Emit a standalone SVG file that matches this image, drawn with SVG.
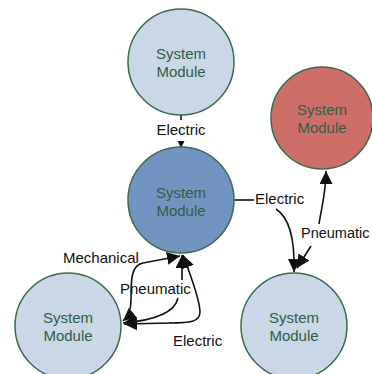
<svg xmlns="http://www.w3.org/2000/svg" width="372" height="374" viewBox="0 0 372 374">
<style>
.node{stroke:#3b6a52;stroke-width:1.5}
.light{fill:#c9d7e6}
.dark{fill:#7195c0}
.red{fill:#cd6f68}
.nt{font-family:"Liberation Sans",Arial,sans-serif;font-size:15px;fill:#2f5d46;text-anchor:middle}
.lbl{font-family:"Liberation Sans",Arial,sans-serif;font-size:15px;fill:#111}
.c{fill:none;stroke:#111;stroke-width:1.6}
</style>
<defs>
<marker id="big" markerUnits="userSpaceOnUse" markerWidth="14" markerHeight="14" refX="13" refY="6.5" orient="auto-start-reverse" viewBox="0 0 14 14">
<path d="M0,0 L13,6.5 L0,13 z" fill="#111"/>
</marker>
<marker id="small" markerUnits="userSpaceOnUse" markerWidth="8" markerHeight="8" refX="7" refY="3.5" orient="auto" viewBox="0 0 8 8">
<path d="M0,0 L7,3.5 L0,7 z" fill="#111"/>
</marker>
</defs>
<g id="connectors">
<path class="c" d="M181 114 V120"/>
<path class="c" d="M181 141 V148" marker-end="url(#small)"/>
<text class="lbl" x="181" y="135" text-anchor="middle">Electric</text>
<path class="c" d="M234 200 H254"/>
<path class="c" d="M276 209 C290 218 295 240 294 272" marker-end="url(#big)"/>
<text class="lbl" x="255" y="204">Electric</text>
<path class="c" d="M319 224 C322 205 326 192 326 171" marker-end="url(#big)"/>
<path class="c" d="M311 246 C306 254 302 260 297 268" marker-end="url(#big)"/>
<text class="lbl" x="301" y="238" style="font-size:14.5px">Pneumatic</text>
<path class="c" d="M180 256 L143 263 C131 265 131 280 131 300 C131 310 129 316 123 321" marker-start="url(#big)" marker-end="url(#big)"/>
<text class="lbl" x="63" y="263">Mechanical</text>
<path class="c" d="M182 280 V255" marker-end="url(#big)"/>
<path class="c" d="M178 298 C175 312 158 320 123 323" marker-end="url(#big)"/>
<text class="lbl" x="120" y="294">Pneumatic</text>
<path class="c" d="M170 323 C190 323 200 322 200 312 C200 300 191 276 183 255" marker-end="url(#big)"/>
<path class="c" d="M171 323 L124 324" marker-end="url(#big)"/>
<text class="lbl" x="173" y="346">Electric</text>
</g>
<g id="node-top">
<circle class="node light" cx="181" cy="62" r="53"/>
<text class="nt" x="181" y="59">System</text>
<text class="nt" x="181" y="77">Module</text>
</g>
<g id="node-red">
<circle class="node red" cx="322" cy="118" r="51"/>
<text class="nt" x="322" y="115">System</text>
<text class="nt" x="322" y="133">Module</text>
</g>
<g id="node-middle">
<circle class="node dark" cx="181" cy="200" r="53"/>
<text class="nt" x="181" y="198">System</text>
<text class="nt" x="181" y="216">Module</text>
</g>
<g id="node-bottom-left">
<circle class="node light" cx="68" cy="326" r="53"/>
<text class="nt" x="68" y="323">System</text>
<text class="nt" x="68" y="341">Module</text>
</g>
<g id="node-bottom-right">
<circle class="node light" cx="294" cy="326" r="53"/>
<text class="nt" x="294" y="323">System</text>
<text class="nt" x="294" y="341">Module</text>
</g>
</svg>
